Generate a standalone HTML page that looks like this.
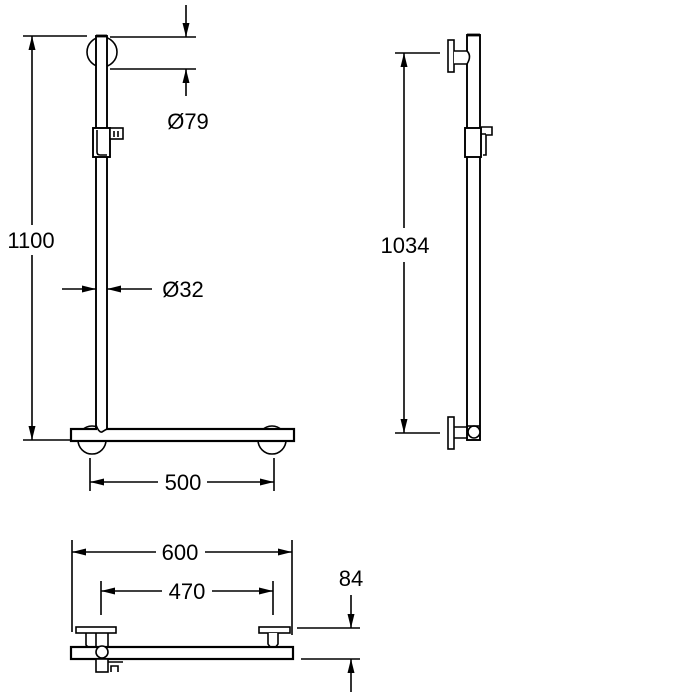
<!DOCTYPE html>
<html><head><meta charset="utf-8"><style>html,body{margin:0;padding:0;background:#fff}svg{display:block}</style></head>
<body>
<svg width="700" height="700" viewBox="0 0 700 700" xmlns="http://www.w3.org/2000/svg" font-family="Liberation Sans, sans-serif" font-size="22" fill="none" stroke="#000">
<defs>
<marker id="a" viewBox="0 0 14 7" refX="14" refY="3.5" markerWidth="14" markerHeight="7" markerUnits="userSpaceOnUse" orient="auto-start-reverse"><path d="M0,0 L14,3.5 L0,7 z" fill="#000" stroke="none"/></marker>
</defs>
<g stroke-width="1.6">
<!-- LEFT VIEW -->
<circle cx="102" cy="52" r="15" fill="#fff"/>
<circle cx="92" cy="440" r="14" fill="#fff"/>
<circle cx="272" cy="440" r="14" fill="#fff"/>
<rect x="96" y="36" width="11" height="400" fill="#fff" stroke-width="1.9"/>
<line x1="96" y1="36" x2="107" y2="36" stroke-width="2.8"/>
<rect x="71" y="429" width="223" height="12" fill="#fff" stroke-width="2.2"/>
<rect x="97" y="420" width="9" height="10" fill="#fff" stroke="none"/>
<path d="M96,425 Q99,433 102,432 Q105,430 107,429" />
<rect x="93" y="128" width="17" height="29" fill="#fff" stroke-width="1.9"/>
<path d="M97,130 V152 Q97,155 100,155 H107" />
<rect x="110" y="128" width="13" height="11" fill="#fff"/>
<line x1="114" y1="131" x2="114" y2="137"/>
<line x1="118" y1="131" x2="118" y2="137"/>
<!-- Ø79 -->
<line x1="110" y1="37" x2="196" y2="37"/>
<line x1="110" y1="69" x2="196" y2="69"/>
<line x1="186" y1="5" x2="186" y2="37" marker-end="url(#a)"/>
<line x1="186" y1="96" x2="186" y2="69" marker-end="url(#a)"/>
<!-- 1100 -->
<line x1="23" y1="36" x2="87" y2="36"/>
<line x1="23" y1="440" x2="70" y2="440"/>
<line x1="32" y1="225" x2="32" y2="36" marker-end="url(#a)"/>
<line x1="32" y1="255" x2="32" y2="440" marker-end="url(#a)"/>
<!-- Ø32 -->
<line x1="62" y1="289" x2="96" y2="289" marker-end="url(#a)"/>
<line x1="152" y1="289" x2="107" y2="289" marker-end="url(#a)"/>
<!-- 500 -->
<line x1="90" y1="458" x2="90" y2="491"/>
<line x1="274" y1="458" x2="274" y2="491"/>
<line x1="158" y1="482" x2="90" y2="482" marker-end="url(#a)"/>
<line x1="207" y1="482" x2="274" y2="482" marker-end="url(#a)"/>

<!-- RIGHT VIEW -->
<rect x="467" y="35" width="13" height="405" fill="#fff" stroke-width="1.9"/>
<line x1="467" y1="35" x2="480" y2="35" stroke-width="2.8"/>
<rect x="448" y="40" width="6" height="32" fill="#fff"/>
<path d="M454,51 H467 Q472,56 467,64 H454" fill="#fff"/>
<rect x="448" y="417" width="6" height="32" fill="#fff"/>
<path d="M454,427 H468 M454,438 H468"/>
<circle cx="474" cy="432" r="6" fill="#fff"/>
<line x1="467" y1="426" x2="480" y2="426"/>
<rect x="465" y="128" width="16" height="29" fill="#fff" stroke-width="1.9"/>
<path d="M481,127 H492 V135 H486 V155 H483 M481,134 H486"/>
<line x1="395" y1="53" x2="440" y2="53"/>
<line x1="395" y1="433" x2="440" y2="433"/>
<line x1="404" y1="228" x2="404" y2="53" marker-end="url(#a)"/>
<line x1="404" y1="262" x2="404" y2="433" marker-end="url(#a)"/>

<!-- BOTTOM VIEW -->
<rect x="76" y="627" width="40" height="6" fill="#fff"/>
<rect x="259" y="627" width="31" height="6" fill="#fff"/>
<path d="M86,633 V645 Q90,650 96,650" />
<path d="M268,633 V644 Q273,652 278,644 V633" fill="#fff"/>
<path d="M96,633 V648 M108,633 V648"/>
<rect x="71" y="647" width="222" height="12" fill="#fff" stroke-width="2.2"/>
<circle cx="102" cy="652" r="6" fill="#fff"/>
<rect x="96" y="659" width="12" height="13" fill="#fff"/>
<path d="M108,662 H123 M111,672 V666 H118 V672"/>
<!-- 600 -->
<line x1="72" y1="540" x2="72" y2="632"/>
<line x1="292" y1="540" x2="292" y2="635"/>
<line x1="156" y1="552" x2="72" y2="552" marker-end="url(#a)"/>
<line x1="205" y1="552" x2="292" y2="552" marker-end="url(#a)"/>
<!-- 470 -->
<line x1="162" y1="591" x2="101" y2="591" marker-end="url(#a)"/>
<line x1="101" y1="581" x2="101" y2="615"/>
<line x1="273" y1="581" x2="273" y2="615"/>
<line x1="212" y1="591" x2="273" y2="591" marker-end="url(#a)"/>
<!-- 84 -->
<line x1="297" y1="628" x2="360" y2="628"/>
<line x1="301" y1="659" x2="360" y2="659"/>
<line x1="351" y1="595" x2="351" y2="628" marker-end="url(#a)"/>
<line x1="351" y1="692" x2="351" y2="659" marker-end="url(#a)"/>
</g>
<g fill="#000" stroke="none">
<text x="188" y="129" text-anchor="middle">Ø79</text>
<text x="31" y="248" text-anchor="middle">1100</text>
<text x="183" y="297" text-anchor="middle">Ø32</text>
<text x="183" y="490" text-anchor="middle">500</text>
<text x="405" y="253" text-anchor="middle">1034</text>
<text x="180" y="560" text-anchor="middle">600</text>
<text x="187" y="599" text-anchor="middle">470</text>
<text x="351" y="586" text-anchor="middle">84</text>
</g>
</svg>
</body></html>
